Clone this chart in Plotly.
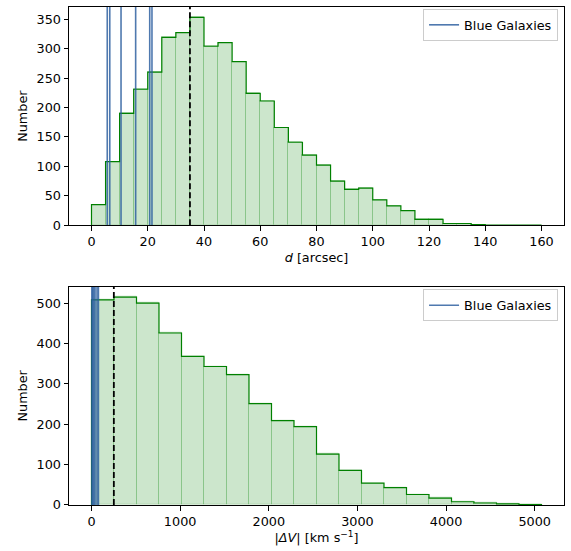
import numpy as np
import plotly.graph_objects as go

# ---------------- data ----------------
# Top panel: projected separation d [arcsec], bins of width 5 from 0 to 160
d_bin_width = 5.0
d_counts = [35, 108, 190, 231, 260, 319, 327, 353, 304, 310, 278, 224, 211, 166,
            141, 119, 102, 75, 61, 63, 43, 33, 25, 10, 10, 3, 3, 1, 0, 0, 0, 0]
d_blue = [5.6, 6.5, 10.5, 15.7, 20.7, 21.5]
d_median = 35.0
d_xticks = [0, 20, 40, 60, 80, 100, 120, 140, 160]
d_yticks = [0, 50, 100, 150, 200, 250, 300, 350]

# Bottom panel: |Delta V| [km/s], 20 bins from 0 to max
dv_max = 5077.0
dv_counts = [508, 515, 500, 426, 368, 343, 323, 251, 209, 194, 126, 86, 54, 43,
             26, 17, 8, 5, 3, 1]
dv_blue = [4, 14, 27, 40, 62, 78]
dv_median = 252.0
dv_xticks = [0, 1000, 2000, 3000, 4000, 5000]
dv_yticks = [0, 100, 200, 300, 400, 500]

FONT = "DejaVu Sans"
FS = 12.8
GREEN = "#008000"
BLUE = "rgba(40,92,158,0.82)"

fig = go.Figure()


def add_panel(counts, width, blue_vals, median, xa, ya, legend):
    counts = np.asarray(counts, dtype=float)
    n = len(counts)
    edges = np.arange(n + 1) * width
    centers = edges[:-1] + width / 2
    ymax = 1.05 * counts.max()
    # filled bars
    fig.add_trace(go.Bar(
        x=centers, y=counts, width=width,
        marker=dict(color="rgba(0,128,0,0.2)",
                    line=dict(color="rgba(0,128,0,0.18)", width=1)),
        showlegend=False, hoverinfo="skip", xaxis=xa, yaxis=ya))
    # step outline
    sx = [edges[0]] + list(edges) + [edges[-1]]
    sy = [0] + list(counts) + [counts[-1], 0]
    fig.add_trace(go.Scatter(
        x=sx, y=sy, mode="lines", line=dict(color=GREEN, width=1.2, shape="hv"),
        showlegend=False, hoverinfo="skip", xaxis=xa, yaxis=ya))
    # blue galaxies
    bx, by = [], []
    for v in blue_vals:
        bx += [v, v, None]
        by += [0, ymax, None]
    fig.add_trace(go.Scatter(
        x=bx, y=by, mode="lines", line=dict(color=BLUE, width=1.6),
        name="Blue Galaxies", showlegend=True, legend=legend,
        xaxis=xa, yaxis=ya))
    # median
    fig.add_trace(go.Scatter(
        x=[median, median], y=[0, ymax], mode="lines",
        line=dict(color="black", width=1.8, dash="6px,3px"),
        showlegend=False, hoverinfo="skip", xaxis=xa, yaxis=ya))
    W = edges[-1] - edges[0]
    return [edges[0] - 0.05 * W, edges[-1] + 0.05 * W], [0, ymax]


xr1, yr1 = add_panel(d_counts, d_bin_width, d_blue, d_median, "x", "y", "legend")
xr2, yr2 = add_panel(dv_counts, dv_max / len(dv_counts), dv_blue, dv_median, "x2", "y2", "legend2")

axis_common = dict(showline=True, mirror=True, linecolor="black", linewidth=1,
                   ticks="outside", ticklen=4.5, tickwidth=1, tickcolor="black",
                   showgrid=False, zeroline=False, layer="above traces",
                   tickfont=dict(family=FONT, size=FS, color="black"))

legend_common = dict(xanchor="right", yanchor="top", bgcolor="rgba(255,255,255,0.8)",
                     bordercolor="#cccccc", borderwidth=1, itemwidth=30,
                     font=dict(family=FONT, size=FS, color="black"))

fig.update_layout(
    width=571, height=551,
    margin=dict(l=69, r=7, t=7, b=46),
    paper_bgcolor="white", plot_bgcolor="white",
    bargap=0, barmode="overlay",
    font=dict(family=FONT, size=FS, color="black"),
    xaxis=dict(domain=[0, 1], anchor="y", range=xr1, tickvals=d_xticks,
               title=dict(text="<i>d</i> [arcsec]", standoff=4,
                          font=dict(family=FONT, size=FS)), **axis_common),
    yaxis=dict(domain=[0.5617, 1], anchor="x", range=yr1, tickvals=d_yticks,
               title=dict(text="Number", standoff=6,
                          font=dict(family=FONT, size=FS)), **axis_common),
    xaxis2=dict(domain=[0, 1], anchor="y2", range=xr2, tickvals=dv_xticks,
                title=dict(text="|<i>ΔV</i>| [km s<sup>−1</sup>]", standoff=4,
                           font=dict(family=FONT, size=FS)), **axis_common),
    yaxis2=dict(domain=[0, 0.4384], anchor="x2", range=yr2, tickvals=dv_yticks,
                title=dict(text="Number", standoff=6,
                           font=dict(family=FONT, size=FS)), **axis_common),
    legend=dict(x=0.988, y=0.996, **legend_common),
    legend2=dict(x=0.988, y=0.433, **legend_common),
)

fig.write_html("out.html")
